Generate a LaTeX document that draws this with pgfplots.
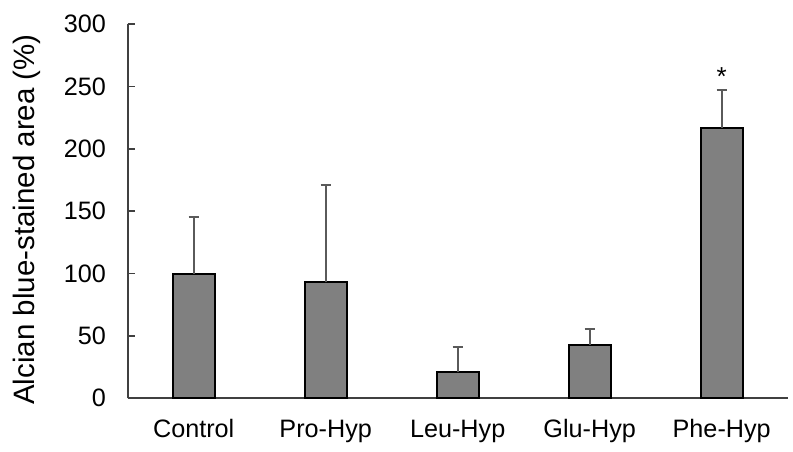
\documentclass[border=0pt]{standalone}
\usepackage{pgfplots}
\pgfplotsset{compat=1.18}
\usepackage{fontspec}
\setmainfont{Liberation Sans}
\definecolor{barfill}{HTML}{808080}
\definecolor{axisgray}{HTML}{404040}
\definecolor{errgray}{HTML}{5A5A5A}
\begin{document}
\begin{tikzpicture}
\useasboundingbox (-127.7pt,-52.7pt) rectangle (665.3pt,398.3pt);
\begin{axis}[
  at={(0pt,0pt)}, anchor=south west,
  scale only axis, width=660pt, height=374.3pt,
  xmin=-0.5, xmax=4.5, ymin=0, ymax=300,
  axis lines*=left,
  axis line style={axisgray, line width=1.8pt, -},
  ytick={0,50,...,300},
  xtick=data,
  xticklabels={Control,Pro-Hyp,Leu-Hyp,Glu-Hyp,Phe-Hyp},
  tick align=inside, major tick length=7pt,
  ytick style={axisgray, line width=1.5pt},
  xtick style={draw=none},
  tick label style={font=\fontsize{25.2}{29}\selectfont},
  /pgf/number format/assume math mode=true,
  yticklabel style={inner sep=0pt, anchor=east, xshift=-21.7pt},
  xticklabel style={inner sep=0pt, anchor=base, yshift=-38.7pt},
  ylabel={Alcian blue-stained area (\%)},
  ylabel style={font=\fontsize{29.5}{34}\selectfont, at={(axis description cs:-0.1415,0.478)}, anchor=base, inner sep=0pt},
  clip=false,
]
\addplot[ybar, bar width=41.7pt, fill=barfill, draw=black, line width=2pt,
  error bars/.cd, y dir=plus, y explicit,
  error bar style={errgray, line width=1.8pt},
  error mark options={errgray, line width=1.8pt, mark size=5pt, rotate=90}]
coordinates {
  (0,100) +- (0,45.5)
  (1,93) +- (0,78)
  (2,21) +- (0,20.4)
  (3,43) +- (0,12.8)
  (4,217) +- (0,30)
};
\node[anchor=base, font=\fontsize{26}{30}\selectfont] at (axis cs:4,251) {*};
\end{axis}
\end{tikzpicture}
\end{document}
